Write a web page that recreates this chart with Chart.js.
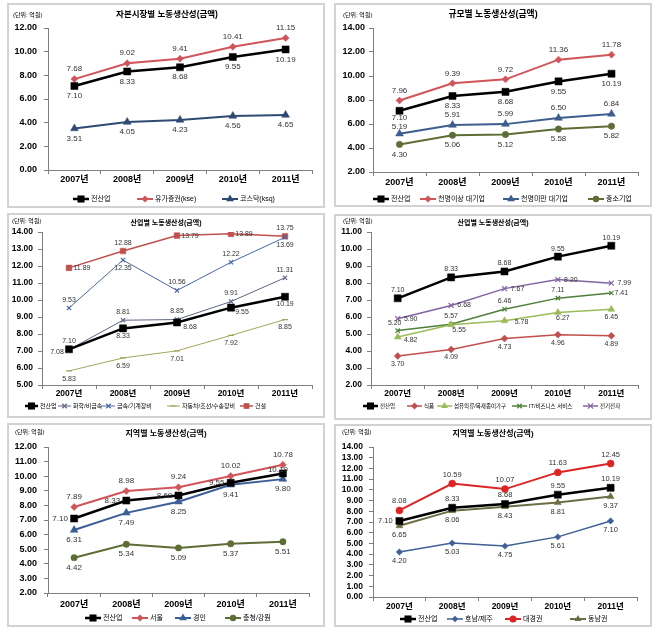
<!DOCTYPE html>
<html><head><meta charset="utf-8">
<script src="https://cdn.jsdelivr.net/npm/chart.js@4.4.1/dist/chart.umd.min.js"></script>
<style>
html,body{margin:0;padding:0;background:#fff;}
body{width:663px;height:633px;position:relative;overflow:hidden;}
.pn{position:absolute;box-sizing:border-box;border:2px solid #d2d2d2;pointer-events:none;}
canvas{position:absolute;}
</style></head><body>
<script>
// ---------- DATA ----------
const years = ['2007년','2008년','2009년','2010년','2011년'];
const allIndustry = [7.10, 8.33, 8.68, 9.55, 10.19];
// 자본시장별
const kse = [7.68, 9.02, 9.41, 10.41, 11.15];
const ksq = [3.51, 4.05, 4.23, 4.56, 4.65];
// 규모별
const large1000Plus = [7.96, 9.39, 9.72, 11.36, 11.78];
const largeUnder1000 = [5.19, 5.91, 5.99, 6.50, 6.84];
const sme = [4.30, 5.06, 5.12, 5.58, 5.82];
// 산업별 (1)
const chem = [7.08, 8.81, 8.85, 9.91, 11.31];
const metal = [9.53, 12.35, 10.56, 12.22, 13.69];
const autoShip = [5.83, 6.59, 7.01, 7.92, 8.85];
const construction = [11.89, 12.88, 13.79, 13.89, 13.75];
// 산업별 (2)
const food = [3.70, 4.09, 4.73, 4.96, 4.89];
const textile = [4.82, 5.55, 5.78, 6.27, 6.45];
const itBiz = [5.20, 5.57, 6.46, 7.11, 7.41];
const electronics = [5.90, 6.68, 7.67, 8.20, 7.99];
// 지역별 (1)
const seoul = [7.89, 8.98, 9.24, 10.02, 10.78];
const gyeongin = [6.31, 7.49, 8.25, 9.41, 9.80];
const chungcheong = [4.42, 5.34, 5.09, 5.37, 5.51];
// 지역별 (2)
const honam = [4.20, 5.03, 4.75, 5.61, 7.10];
const daegyeong = [8.08, 10.59, 10.07, 11.63, 12.45];
const dongnam = [6.65, 8.06, 8.43, 8.81, 9.37];
// axis ranges [min, max, step]
const yRange1 = [0, 12, 2], yRange2 = [2, 14, 2], yRange3 = [5, 14, 1];
const yRange4 = [2, 11, 1], yRange5 = [2, 12, 1], yRange6 = [0, 14, 1];
const unitText = '(단위: 억원)';

// ---------- LAYOUT / STYLE ----------
const FF = "'Liberation Sans','Noto Sans CJK KR',sans-serif";
const BLACK = {color:'#000000', ps:'rect', r:5, w:2.5};
const panels = [
 {box:[7,3,318,205], area:[48,28,312,170], y:yRange1, title:'자본시장별 노동생산성(금액)', tPos:[167,15], tSize:8.5, unit:[13,15],
  tick:9, xPad:0, yPad:7, lab:8, dv:10, dh:14, legY:199, legX:[73,137,222], legF:7,
  series:[
   {name:'전산업', data:allIndustry, ...BLACK, lab:'b'},
   {name:'유가증권(kse)', data:kse, color:'#d1545b', ps:'rectRot', r:3.5, w:2, lab:'a'},
   {name:'코스닥(ksq)', data:ksq, color:'#2f4a72', ps:'triangle', r:4.5, w:2, lab:'b'}]},
 {box:[334,3,318,204], area:[373,28,638,172], y:yRange2, title:'규모별 노동생산성(금액)', tPos:[493,15], tSize:8.8, unit:[343,15],
  tick:9, xPad:1, yPad:4, lab:8, dv:10, dh:14, legY:199, legX:[373,420,503,588], legF:7,
  series:[
   {name:'전산업', data:allIndustry, ...BLACK, lab:[[0,7],'b','b','b','b']},
   {name:'천명이상 대기업', data:large1000Plus, color:'#d1545b', ps:'rectRot', r:3.5, w:2, lab:'a'},
   {name:'천명미만 대기업', data:largeUnder1000, color:'#3d5d8e', ps:'triangle', r:4.5, w:2, lab:[[0,-7],'a','a','a','a']},
   {name:'중소기업', data:sme, color:'#5e6d35', ps:'circle', r:3.2, w:2, lab:'b'}]},
 {box:[7,213,318,205], area:[42,232,312,385], y:yRange3, title:'산업별 노동생산성(금액)', tPos:[166,223], tSize:7, unit:[12,221],
  tick:8.5, xPad:0, yPad:5, lab:7, dv:8, dh:13, legY:406, legX:[25,58,102,167,240], legF:6, legL:13,
  series:[
   {name:'전산업', data:allIndustry, ...BLACK, lab:['a','b',[13,5],[11,4],[0,7]]},
   {name:'화학/비금속', data:chem, color:'#5b6580', ps:'crossRot', r:3, w:1, lab:[[-12,2],'a','a','a','a']},
   {name:'금속/기계장비', data:metal, color:'#4866a6', ps:'crossRot', r:3, w:1, lab:['a','b','a','a','b']},
   {name:'자동차/조선/수송장비', data:autoShip, color:'#a5a55e', ps:'line', r:3, w:1, lab:'b'},
   {name:'건설', data:construction, color:'#c0504d', ps:'rect', r:4, w:1.5, lab:['r','a','r','r','a']}]},
 {box:[334,214,318,206], area:[371,232,638,385], y:yRange4, title:'산업별 노동생산성(금액)', tPos:[493,223], tSize:7, unit:[343,221],
  tick:8.5, xPad:0, yPad:5, lab:7, dv:8, dh:13, legY:406, legX:[363,407,437,512,583], legF:5.5, legL:15,
  series:[
   {name:'전산업', data:allIndustry, ...BLACK, lab:'a'},
   {name:'식품', data:food, color:'#c0504d', ps:'rectRot', r:3.5, w:1.5, lab:'b'},
   {name:'섬유의류/목재종이가구', data:textile, color:'#9bbb59', ps:'triangle', r:4, w:1.5, lab:[[13,3],[8,5],[17,1],[5,6],'b']},
   {name:'IT/비즈니스 서비스', data:itBiz, color:'#4f7f3a', ps:'crossRot', r:3, w:1.5, lab:[[-3,-8],'a','a','a',[10,0]]},
   {name:'전기전자', data:electronics, color:'#8064a2', ps:'crossRot', r:3.5, w:1.5, lab:'r'}]},
 {box:[7,423,318,204], area:[48,447,309,593], y:yRange5, title:'지역별 노동생산성(금액)', tPos:[166,434], tSize:8, unit:[15,432],
  tick:9, xPad:2, yPad:7, lab:8, dv:10, dh:14, legY:618, legX:[85,132,175,225], legF:7,
  series:[
   {name:'전산업', data:allIndustry, ...BLACK, lab:['l','l','l','l',[-5,-4]]},
   {name:'서울', data:seoul, color:'#d1545b', ps:'rectRot', r:3.5, w:2, lab:'a'},
   {name:'경인', data:gyeongin, color:'#3a5f95', ps:'triangle', r:4.5, w:2, lab:'b'},
   {name:'충청/강원', data:chungcheong, color:'#5e6d35', ps:'circle', r:3.2, w:2, lab:'b'}]},
 {box:[334,424,318,203], area:[373,447,637,597], y:yRange6, title:'지역별 노동생산성(금액)', tPos:[493,434], tSize:8, unit:[342,432],
  tick:8.5, xPad:1, yPad:6, lab:7.5, dv:9, dh:14, legY:619, legX:[400,447,505,570], legF:7,
  series:[
   {name:'전산업', data:allIndustry, ...BLACK, lab:['l','a','a','a','a']},
   {name:'호남/제주', data:honam, color:'#3f5f95', ps:'rectRot', r:3.2, w:1.5, lab:'b'},
   {name:'대경권', data:daegyeong, color:'#dc2424', ps:'circle', r:3.5, w:2, lab:'a'},
   {name:'동남권', data:dongnam, color:'#6d6e45', ps:'triangle', r:4, w:2, lab:'b'}]}
];

function marker(ctx, style, r, x, y, color){
  ctx.save();
  ctx.fillStyle = color; ctx.strokeStyle = color; ctx.lineWidth = 1.2;
  ctx.beginPath();
  if (style === 'rect') { const s = r*Math.SQRT1_2; ctx.rect(x-s, y-s, 2*s, 2*s); ctx.fill(); }
  else if (style === 'rectRot') { ctx.moveTo(x, y-r); ctx.lineTo(x+r, y); ctx.lineTo(x, y+r); ctx.lineTo(x-r, y); ctx.closePath(); ctx.fill(); }
  else if (style === 'triangle') { ctx.moveTo(x, y-r); ctx.lineTo(x+r*0.866, y+r*0.5); ctx.lineTo(x-r*0.866, y+r*0.5); ctx.closePath(); ctx.fill(); }
  else if (style === 'circle') { ctx.arc(x, y, r, 0, Math.PI*2); ctx.fill(); }
  else if (style === 'crossRot') { const d = r*0.75; ctx.moveTo(x-d,y-d); ctx.lineTo(x+d,y+d); ctx.moveTo(x-d,y+d); ctx.lineTo(x+d,y-d); ctx.stroke(); }
  else if (style === 'line') { ctx.moveTo(x-r,y); ctx.lineTo(x+r,y); ctx.stroke(); }
  ctx.restore();
}

const deco = {
  id: 'deco',
  afterDraw(chart){
    const P = chart.canvas._panel; const ctx = chart.ctx;
    const ox = P.box[0], oy = P.box[1];
    ctx.save();
    ctx.textBaseline = 'middle';
    ctx.fillStyle = '#000';
    ctx.textAlign = 'center';
    ctx.font = 'bold ' + P.tSize + 'px ' + FF;
    ctx.fillText(P.title, P.tPos[0]-ox, P.tPos[1]-oy);
    ctx.textAlign = 'left';
    ctx.font = '6px ' + FF;
    ctx.fillText(unitText, P.unit[0]-ox, P.unit[1]-oy);
    // data labels
    ctx.font = P.lab + 'px ' + FF;
    ctx.fillStyle = '#333';
    ctx.textAlign = 'center';
    P.series.forEach((s, i) => {
      const meta = chart.getDatasetMeta(i);
      const vals = chart.data.datasets[i].data;
      meta.data.forEach((pt, j) => {
        const code = Array.isArray(s.lab) ? s.lab[j] : s.lab;
        let dx = 0, dy = 0;
        if (Array.isArray(code)) { dx = code[0]; dy = code[1]; }
        else if (code === 'a') dy = -P.dv;
        else if (code === 'b') dy = P.dv;
        else if (code === 'l') dx = -P.dh;
        else if (code === 'r') dx = P.dh;
        ctx.fillText(Number(vals[j]).toFixed(2), pt.x+dx, pt.y+dy);
      });
    });
    // legend
    const L = P.legL || 16;
    P.series.forEach((s, i) => {
      const x0 = P.legX[i]-ox, y = P.legY-oy;
      ctx.strokeStyle = s.color; ctx.lineWidth = Math.max(1, s.w);
      ctx.beginPath(); ctx.moveTo(x0, y); ctx.lineTo(x0+L, y); ctx.stroke();
      marker(ctx, s.ps, s.r, x0+L/2, y, s.color);
      ctx.fillStyle = '#000'; ctx.font = P.legF + 'px ' + FF; ctx.textAlign = 'left';
      ctx.fillText(s.name, x0+L+2, y);
    });
    ctx.restore();
  }
};

panels.forEach((P, k) => {
  const cv = document.createElement('canvas');
  cv.width = P.box[2]; cv.height = P.box[3];
  cv.style.left = P.box[0]+'px'; cv.style.top = P.box[1]+'px';
  cv.style.width = P.box[2]+'px'; cv.style.height = P.box[3]+'px';
  cv._panel = P;
  document.body.appendChild(cv);
  const bd = document.createElement('div');
  bd.className = 'pn';
  bd.style.left = P.box[0]+'px'; bd.style.top = P.box[1]+'px';
  bd.style.width = P.box[2]+'px'; bd.style.height = P.box[3]+'px';
  document.body.appendChild(bd);

  const datasets = P.series.map(s => ({
    label: s.name, data: s.data, borderColor: s.color, backgroundColor: s.color,
    borderWidth: s.w, pointStyle: s.ps, pointRadius: s.r, pointHoverRadius: s.r,
    pointBackgroundColor: s.color, pointBorderColor: s.color,
    pointBorderWidth: (s.ps === 'crossRot' || s.ps === 'line') ? 1.2 : 0.5,
    tension: 0, fill: false
  }));
  const tickFont = {family: FF, size: P.tick, weight: 'bold'};
  new Chart(cv, {
    type: 'line',
    data: {labels: years, datasets},
    options: {
      responsive: false, animation: false, devicePixelRatio: 1,
      layout: {padding: {left: 0, top: P.area[1]-P.box[1], right: P.box[0]+P.box[2]-P.area[2], bottom: 0}},
      plugins: {legend: {display: false}, title: {display: false}, tooltip: {enabled: false}},
      scales: {
        x: {
          type: 'category', offset: true,
          grid: {display: true, drawOnChartArea: false, offset: true, drawTicks: true, tickLength: 4, color: '#7f7f7f', lineWidth: 1},
          border: {display: true, color: '#7f7f7f', width: 1},
          ticks: {color: '#000', font: tickFont, padding: P.xPad, maxRotation: 0, autoSkip: false},
          afterFit(s){ s.height = P.box[1]+P.box[3]-P.area[3]; }
        },
        y: {
          min: P.y[0], max: P.y[1],
          grid: {display: true, drawOnChartArea: false, drawTicks: true, tickLength: 4, color: '#7f7f7f', lineWidth: 1},
          border: {display: true, color: '#7f7f7f', width: 1},
          ticks: {stepSize: P.y[2], color: '#000', font: tickFont, padding: P.yPad, autoSkip: false,
                  callback: v => Number(v).toFixed(2)},
          afterFit(s){ s.width = P.area[0]-P.box[0]; }
        }
      }
    },
    plugins: [deco]
  });
});
</script>
</body></html>
